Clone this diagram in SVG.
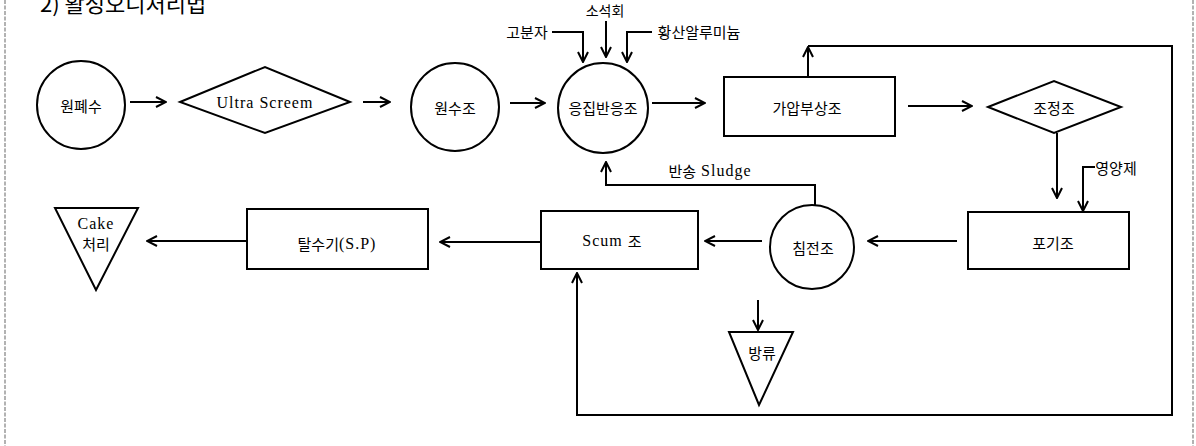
<svg xmlns="http://www.w3.org/2000/svg" width="1196" height="446" viewBox="0 0 1196 446">
<style>
.n{fill:#fff;stroke:#000;stroke-width:2}
.c{fill:none;stroke:#000;stroke-width:2}
.k{font-family:"Noto Sans CJK KR","Noto Sans",sans-serif;font-size:15px;fill:#000;text-anchor:middle;dominant-baseline:central}
.s{font-family:"Liberation Serif","Noto Sans CJK KR",serif;font-size:16px;letter-spacing:1px;fill:#000;text-anchor:middle;dominant-baseline:central}
.kt{font-family:"Noto Sans CJK KR",sans-serif;font-size:15px;letter-spacing:0}
.b{stroke:#999;stroke-width:1.5;stroke-dasharray:4 1.5;fill:none}
</style>
<defs>
<marker id="ah" viewBox="0 0 12 12" refX="11" refY="6" markerWidth="12" markerHeight="12" orient="auto" markerUnits="userSpaceOnUse">
<path d="M1,1 L11,6 L1,11" fill="none" stroke="#000" stroke-width="2"/>
</marker>
</defs>
<rect width="1196" height="446" fill="#fff"/>
<line class="b" x1="5" y1="0" x2="5" y2="446"/>
<line class="b" x1="1193" y1="0" x2="1193" y2="446"/>
<text x="40" y="12" style="font-family:'Noto Sans CJK KR',sans-serif;font-size:22px" fill="#000">2) 활성오니처리법</text>

<g id="connectors">
<line class="c" x1="130" y1="102" x2="166" y2="102" marker-end="url(#ah)"/>
<line class="c" x1="363" y1="102" x2="390" y2="102" marker-end="url(#ah)"/>
<line class="c" x1="510" y1="103" x2="545" y2="103" marker-end="url(#ah)"/>
<line class="c" x1="652" y1="103" x2="705" y2="103" marker-end="url(#ah)"/>
<polyline class="c" points="552,32 583,32 583,62" marker-end="url(#ah)"/>
<line class="c" x1="606" y1="21" x2="606" y2="57" marker-end="url(#ah)"/>
<polyline class="c" points="652,32 627,32 627,62" marker-end="url(#ah)"/>
<line class="c" x1="808" y1="77" x2="808" y2="47" marker-end="url(#ah)"/>
<polyline class="c" points="808,46 1172,46 1172,415 577,415 577,273" marker-end="url(#ah)"/>
<line class="c" x1="908" y1="106" x2="972" y2="106" marker-end="url(#ah)"/>
<line class="c" x1="1057" y1="133" x2="1057" y2="198" marker-end="url(#ah)"/>
<polyline class="c" points="1095,167 1083,167 1083,211" marker-end="url(#ah)"/>
<line class="c" x1="957" y1="241" x2="868" y2="241" marker-end="url(#ah)"/>
<line class="c" x1="762" y1="241" x2="705" y2="241" marker-end="url(#ah)"/>
<polyline class="c" points="815,205 815,185 606,185 606,162" marker-end="url(#ah)"/>
<line class="c" x1="540" y1="242" x2="440" y2="242" marker-end="url(#ah)"/>
<line class="c" x1="247" y1="241" x2="147" y2="241" marker-end="url(#ah)"/>
<line class="c" x1="758" y1="300" x2="758" y2="330" marker-end="url(#ah)"/>
<text class="k" x="527" y="31">고분자</text>
<text class="k" x="605" y="10" style="font-size:14px">소석회</text>
<text class="k" x="699" y="31">황산알루미늄</text>
<text class="k" x="1116" y="167">영양제</text>
<text class="s" x="710" y="170"><tspan class="kt">반송</tspan> Sludge</text>
</g>

<g id="n-wonpyesu"><circle class="n" cx="81" cy="105" r="44"/><text class="k" x="81" y="105">원폐수</text></g>
<g id="n-ultra"><polygon class="n" points="180,102 265,67 350,102 265,133"/><text class="s" x="265" y="102">Ultra Screem</text></g>
<g id="n-wonsujo"><circle class="n" cx="455" cy="107" r="44"/><text class="k" x="455" y="107">원수조</text></g>
<g id="n-eungjip"><circle class="n" cx="603" cy="108" r="45"/><text class="k" x="603" y="107">응집반응조</text></g>
<g id="n-gaap"><rect class="n" x="724" y="77" width="171" height="59"/><text class="k" x="807" y="107">가압부상조</text></g>
<g id="n-jojeong"><polygon class="n" points="988,107 1054,81 1121,107 1054,133"/><text class="k" x="1054" y="107">조정조</text></g>
<g id="n-pogi"><rect class="n" x="968" y="212" width="161" height="57"/><text class="k" x="1053" y="242">포기조</text></g>
<g id="n-chimjeon"><circle class="n" cx="812" cy="247" r="42"/><text class="k" x="813" y="247">침전조</text></g>
<g id="n-scum"><rect class="n" x="541" y="211" width="157" height="58"/><text class="s" x="612" y="240">Scum <tspan class="kt">조</tspan></text></g>
<g id="n-talsu"><rect class="n" x="247" y="209" width="181" height="60"/><text class="s" x="337" y="243"><tspan class="kt">탈수기</tspan>(S.P)</text></g>
<g id="n-cake"><polygon class="n" points="55,208 138,208 96,290"/><text class="s" x="96" y="223">Cake</text><text class="k" x="96" y="243">처리</text></g>
<g id="n-bangryu"><polygon class="n" points="729,332 793,332 759,405"/><text class="k" x="762" y="352">방류</text></g>
</svg>
